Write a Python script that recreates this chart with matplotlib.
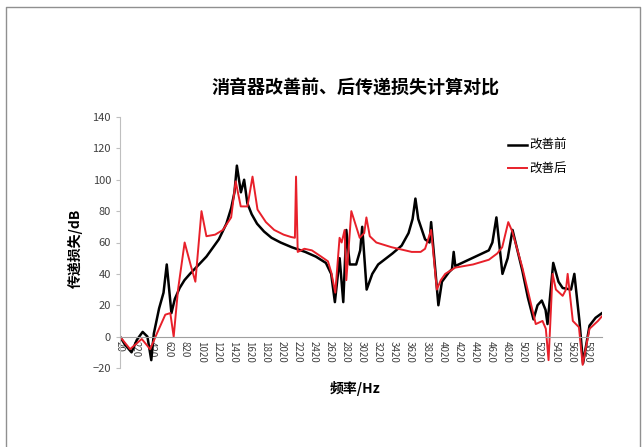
import matplotlib.pyplot as plt
from matplotlib.lines import Line2D

plt.rcParams['font.family'] = ['Noto Sans CJK SC', 'DejaVu Sans']

# 改善前 (black)
freq_before = [20, 80, 163, 230, 301, 360, 408, 440, 505, 560, 600, 630, 658, 700, 760,
               820, 888, 1000, 1092, 1246, 1340, 1400, 1440, 1470, 1520, 1560, 1600, 1654,
               1720, 1807, 1900, 2012, 2150, 2318, 2450, 2574, 2640, 2686, 2745, 2790,
               2828, 2870, 2950, 3000, 3025, 3080, 3150, 3223, 3400, 3514, 3600, 3650,
               3685, 3720, 3805, 3860, 3880, 3970, 4014, 4100, 4139, 4160, 4180, 4388,
               4596, 4640, 4690, 4765, 4830, 4890, 5012, 5080, 5150, 5200, 5253, 5300,
               5324, 5395, 5460, 5512, 5616, 5657, 5720, 5765, 5845, 5920, 6000]
tl_before = [0, -5, -10, -2, 3, 0, -15, 2, 18, 28, 46, 30, 15, 24, 31,
             36, 40, 46, 51, 62, 72, 82, 92, 109, 92, 100, 85, 78,
             72, 67, 63, 60, 57, 54, 51, 47, 40, 22, 50, 22,
             68, 46, 46, 55, 70, 30, 40, 46, 53, 58, 66, 75,
             88, 75, 62, 60, 73, 20, 35, 41, 43, 54, 45, 50,
             55, 60, 76, 40, 50, 68, 42, 25, 11, 20, 23, 17,
             8, 47, 35, 31, 30, 40, 10, -17, 7, 12, 15]

# 改善后 (red)
freq_after = [20, 145, 290, 394, 478, 582, 644, 686, 740, 822, 900, 955, 1031, 1092,
              1200, 1297, 1399, 1455, 1518, 1601, 1664, 1726, 1830, 1933, 2050, 2142,
              2190, 2204, 2225, 2308, 2400, 2516, 2600, 2641, 2691, 2744, 2770, 2807,
              2828, 2890, 2994, 3050, 3077, 3119, 3200, 3389, 3639, 3750, 3805, 3880,
              3951, 4000, 4055, 4180, 4400, 4596, 4700, 4762, 4837, 4887, 5012, 5100,
              5178, 5262, 5303, 5337, 5387, 5428, 5512, 5553, 5574, 5638, 5714, 5760,
              5845, 5950, 6000]
tl_after = [0, -8, -1.5, -8, 2, 14, 15, 0, 30, 60, 45, 35, 80, 64,
            65, 68, 76, 99, 83, 83, 102, 81, 73, 68, 65, 63.5,
            63, 102, 54, 56, 55, 51, 48, 41, 28, 63, 60, 68,
            36, 80, 63, 66, 76, 64, 60, 57, 54, 54, 56, 68,
            30, 36, 40, 44, 46, 49, 53, 57, 73, 67, 44, 25,
            8, 10, 5, -15, 40, 30, 26, 30, 40, 10, 6, -18,
            5, 10, 13]

tick_freqs = list(range(20, 6000, 200))

fig = plt.figure(figsize=(6.42, 4.47), dpi=100)
ax = fig.add_axes([120/642, 1-368/447, 482/642, 251/447])

ax.plot(freq_before, tl_before, color='black', lw=1.8, label='改善前')
ax.plot(freq_after, tl_after, color='#e8202a', lw=1.4, label='改善后')

ax.spines['top'].set_visible(False)
ax.spines['right'].set_visible(False)
ax.spines['left'].set_color('#bfbfbf')
ax.spines['bottom'].set_position(('data', 0))
ax.spines['bottom'].set_color('#a0a0a0')

ax.set_xlim(20, 6000)
ax.set_ylim(-20, 140)
ax.set_yticks(range(-20, 141, 20))
ax.set_xticks(tick_freqs)
ax.set_xticklabels([str(f) for f in tick_freqs])
plt.setp(ax.get_xticklabels(), rotation=270, fontsize=7, color='#404040', ha='center', va='top')
ax.tick_params(axis='y', labelsize=8, labelcolor='#404040', length=3, color='#bfbfbf')
ax.tick_params(axis='x', length=0, pad=3)

fig.text(355/642, 1-88/447, '消音器改善前、后传递损失计算对比', ha='center', va='center',
         fontsize=13, fontweight='bold')
fig.text(355/642, 1-388/447, '频率/Hz', ha='center', va='center', fontsize=10, fontweight='bold')
fig.text(75/642, 1-248/447, '传递损失/dB', ha='center', va='center', rotation=90,
         fontsize=10, fontweight='bold')

fig.legend(loc='upper left', bbox_to_anchor=(497/642, 1-128/447), frameon=False,
           handlelength=1.5, handletextpad=0.2, labelspacing=0.8, fontsize=9)

# outer frame
fig.add_artist(Line2D([6/642, 6/642, 640/642, 640/642], [0, 1-7/447, 1-7/447, 0],
                      transform=fig.transFigure, color='#909090', lw=1))

fig.savefig('out.png', dpi=100)
